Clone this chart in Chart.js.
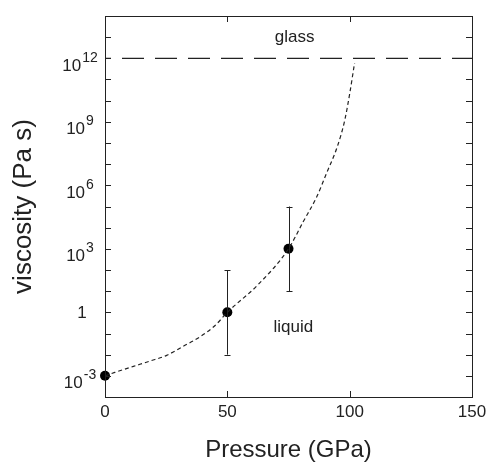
<!DOCTYPE html>
<html><head><meta charset="utf-8">
<script src="https://cdn.jsdelivr.net/npm/chart.js@4/dist/chart.umd.min.js"></script>
<style>html,body{margin:0;padding:0;background:#fff}#wrap{width:487px;height:462px}</style>
</head><body><div id="wrap"><canvas id="c" width="487" height="462"></canvas></div>
<script>
// ---- data ----
const measuredPressure = [0, 50, 75];
const measuredViscosity = [1e-3, 1, 1e3];
const errorLow = [null, 1e-2, 1e1];
const errorHigh = [null, 1e2, 1e5];

const curvePressure = [0, 4, 11.6, 18.4, 25.2, 32, 38.8, 45, 50, 62.5, 75, 81, 86.5, 90.5, 95, 98, 100, 102];
const curveViscosity = [1e-3, 1.45e-3, 2.8e-3, 5.0e-3, 9.3e-3, 2.5e-2, 6.9e-2, 0.24, 1, 20, 1e3, 1.9e4, 2.8e5, 3.6e6, 7e7, 1.2e9, 2.1e10, 6e11];

const glassPressure = [0, 150];
const glassViscosity = [1e12, 1e12];

const xTickValues = [0, 50, 100, 150];
const yTickExponents = [-4,-3,-2,-1,0,1,2,3,4,5,6,7,8,9,10,11,12,13,14];
const yLabelExponents = [-3, 0, 3, 6, 9, 12];

const regionLabels = ['glass', 'liquid'];
const regionPressure = [77.5, 77];
const regionViscosity = [1e13, 0.2];

// ---- helpers ----
const FONT = "'Liberation Sans', Arial, Helvetica, sans-serif";
const INK = '#222';
const toPts = (xs, ys) => xs.map((x,i)=>({x, y: ys[i]}));

const framePlugin = {
  id: 'frame',
  afterDatasetsDraw(chart){
    const {ctx, chartArea: a, scales: {x, y}} = chart;
    ctx.save();
    ctx.strokeStyle = INK; ctx.lineWidth = 1;
    // error bars
    measuredPressure.forEach((p,i)=>{
      if(errorLow[i]==null) return;
      const px = Math.round(x.getPixelForValue(p)) + 0.5;
      const y1 = y.getPixelForValue(errorLow[i]);
      const y2 = y.getPixelForValue(errorHigh[i]);
      ctx.beginPath();
      ctx.moveTo(px, y1); ctx.lineTo(px, y2);
      ctx.moveTo(px-3, Math.round(y1)+0.5); ctx.lineTo(px+3, Math.round(y1)+0.5);
      ctx.moveTo(px-3, Math.round(y2)+0.5); ctx.lineTo(px+3, Math.round(y2)+0.5);
      ctx.stroke();
    });
    // frame
    ctx.strokeRect(Math.round(a.left)+0.5, Math.round(a.top)+0.5, Math.round(a.right-a.left), Math.round(a.bottom-a.top));
    // inward ticks
    const T = 6;
    ctx.beginPath();
    xTickValues.forEach(v=>{
      const px = Math.round(x.getPixelForValue(v))+0.5;
      ctx.moveTo(px, a.bottom); ctx.lineTo(px, a.bottom - T);
      ctx.moveTo(px, a.top); ctx.lineTo(px, a.top + T);
    });
    yTickExponents.forEach(e=>{
      const py = Math.round(y.getPixelForValue(Math.pow(10,e)))+0.5;
      ctx.moveTo(a.left, py); ctx.lineTo(a.left + T, py);
      ctx.moveTo(a.right, py); ctx.lineTo(a.right - T, py);
    });
    ctx.stroke();
    // y tick labels: 10 with raised exponent
    ctx.fillStyle = INK;
    ctx.textBaseline = 'alphabetic';
    ctx.textAlign = 'left';
    const cx = a.left - 25;
    yLabelExponents.forEach(e=>{
      const py = y.getPixelForValue(Math.pow(10,e));
      if(e === 0){
        ctx.font = '17px ' + FONT;
        const w = ctx.measureText('1').width;
        ctx.fillText('1', cx + 2 - w/2, py + 6);
        return;
      }
      ctx.font = '17px ' + FONT;
      const wb = ctx.measureText('10').width;
      ctx.font = '14px ' + FONT;
      const we = ctx.measureText(String(e)).width;
      const x0 = cx - (wb + 1 + we)/2;
      ctx.font = '17px ' + FONT;
      ctx.fillText('10', x0, py + 12.5);
      ctx.font = '14px ' + FONT;
      ctx.fillText(String(e), x0 + wb + 1, py + 3.5);
    });
    // region labels
    ctx.font = '17px ' + FONT;
    ctx.textAlign = 'center'; ctx.textBaseline = 'middle';
    regionLabels.forEach((t,i)=>{
      ctx.fillText(t, x.getPixelForValue(regionPressure[i]), y.getPixelForValue(regionViscosity[i]));
    });
    ctx.restore();
  }
};

const zeroPad = s => { s.paddingLeft = 0; s.paddingRight = 0; s.paddingTop = 0; s.paddingBottom = 0; };

new Chart(document.getElementById('c'), {
  type: 'scatter',
  data: {
    datasets: [
      {
        label: 'glass transition',
        data: toPts(glassPressure, glassViscosity),
        showLine: true, pointRadius: 0,
        borderColor: INK, borderWidth: 1.3,
        borderDash: [22, 11], borderDashOffset: 16,
        order: 3
      },
      {
        label: 'measured',
        data: toPts(measuredPressure, measuredViscosity),
        showLine: false, pointRadius: 5, pointHoverRadius: 5,
        backgroundColor: '#000', borderColor: '#000', borderWidth: 0,
        clip: false,
        order: 2
      },
      {
        label: 'fit',
        data: toPts(curvePressure, curveViscosity),
        showLine: true, pointRadius: 0,
        borderColor: '#222', borderWidth: 1.2,
        borderDash: [4, 3],
        cubicInterpolationMode: 'monotone',
        order: 1
      }
    ]
  },
  options: {
    responsive: false,
    animation: false,
    events: [],
    layout: { padding: { top: 16, right: 15, left: 0, bottom: 0 } },
    plugins: { legend: { display: false }, tooltip: { enabled: false } },
    scales: {
      x: {
        type: 'linear', min: 0, max: 150,
        afterBuildTicks: s => { s.ticks = xTickValues.map(v=>({value:v})); },
        afterFit: s => { s.height = 65; zeroPad(s); },
        grid: { display: false, drawTicks: false },
        border: { display: false },
        ticks: { color: INK, font: { family: FONT, size: 17 }, padding: 5, autoSkip: false, maxRotation: 0 },
        title: { display: true, text: 'Pressure (GPa)', color: INK, font: { family: FONT, size: 24, lineHeight: 1 }, padding: { top: 0, bottom: 0 } }
      },
      y: {
        type: 'logarithmic', min: 1e-4, max: 1e14,
        afterBuildTicks: s => { s.ticks = yTickExponents.map(e=>({value: Math.pow(10,e)})); },
        afterFit: s => { s.width = 105; zeroPad(s); },
        grid: { display: false, drawTicks: false },
        border: { display: false },
        ticks: { display: false },
        title: { display: true, text: 'viscosity (Pa s)', color: INK, font: { family: FONT, size: 26, lineHeight: 1 }, padding: { top: 11, bottom: 0 } }
      }
    }
  },
  plugins: [framePlugin]
});
</script>
</body></html>
